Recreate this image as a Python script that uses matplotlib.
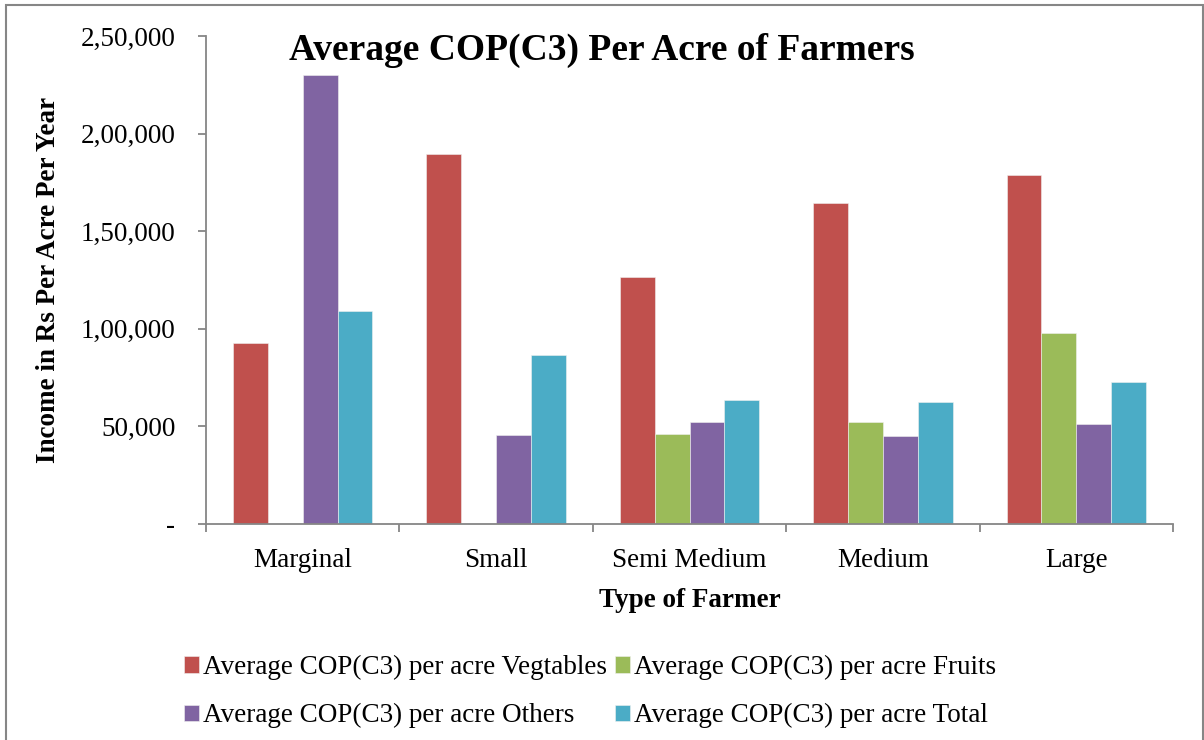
import matplotlib
matplotlib.use("Agg")
import matplotlib.pyplot as plt
from matplotlib.patches import Rectangle
from matplotlib.ticker import FuncFormatter, FixedLocator
import numpy as np

plt.rcParams['font.family'] = ['Liberation Serif', 'DejaVu Serif']

# Farmer categories and average cost of production (C3), Rs per acre per year
farmer_types = ["Marginal", "Small", "Semi Medium", "Medium", "Large"]
vegetables = [92900, 189500, 126500, 164400, 178800]
fruits = [0, 0, 46000, 52300, 97800]
others = [230000, 45800, 52300, 45000, 51200]
total = [109300, 86400, 63500, 62500, 72700]

series_labels = [
    "Average COP(C3) per acre Vegtables",
    "Average COP(C3) per acre Fruits",
    "Average COP(C3) per acre Others",
    "Average COP(C3) per acre Total",
]
colors = ["#C0504D", "#9BBB59", "#8064A2", "#4BACC6"]
y_ticks = [0, 50000, 100000, 150000, 200000, 250000]


def indian_format(v, _pos=None):
    v = int(round(v))
    if v == 0:
        return "-"
    s = str(v)
    last3, rest = s[-3:], s[:-3]
    groups = []
    while len(rest) > 2:
        groups.insert(0, rest[-2:])
        rest = rest[:-2]
    if rest:
        groups.insert(0, rest)
    return ",".join(groups + [last3])


W, H = 1204, 740
FS = 19.5
fig = plt.figure(figsize=(W / 100, H / 100), dpi=100)
ax = fig.add_axes([206 / W, 1 - 524 / H, (1173 - 206) / W, (524 - 36) / H])

x = np.arange(len(farmer_types))
bw = 0.18
offsets = [-1.5, -0.5, 0.5, 1.5]
handles = []
for vals, off, col, lab in zip([vegetables, fruits, others, total], offsets, colors, series_labels):
    b = ax.bar(x + off * bw, vals, width=bw, color=col, label=lab,
               edgecolor="#f0f0f0", linewidth=0.4)
    handles.append(b)

ax.set_xlim(-0.5, len(farmer_types) - 0.5)
ax.set_ylim(0, 250000)

axis_grey = "#868686"
for s in ["top", "right"]:
    ax.spines[s].set_visible(False)
for s in ["left", "bottom"]:
    ax.spines[s].set_color(axis_grey)
    ax.spines[s].set_linewidth(1.3)

ax.yaxis.set_major_locator(FixedLocator(y_ticks))
ax.yaxis.set_major_formatter(FuncFormatter(indian_format))
ax.tick_params(axis="y", direction="out", length=6, width=1.3, color=axis_grey,
               labelsize=FS, pad=16)

# category boundaries carry tick marks, names sit at the centres
ax.xaxis.set_major_locator(FixedLocator(np.arange(-0.5, len(farmer_types), 1.0)))
ax.xaxis.set_major_formatter(FuncFormatter(lambda v, p: ""))
ax.set_xticks(x, minor=True)
ax.set_xticklabels(farmer_types, minor=True)
ax.tick_params(axis="x", which="major", direction="out", length=6, width=1.3, color=axis_grey)
ax.tick_params(axis="x", which="minor", length=0, labelsize=FS, pad=17)

ax.set_xlabel("Type of Farmer", fontsize=FS, fontweight="bold", labelpad=11)
ax.set_ylabel("Income in Rs Per Acre Per Year", fontsize=FS, fontweight="bold", labelpad=14)

fig.text(602 / W, 1 - 50 / H, "Average COP(C3) Per Acre of Farmers",
         ha="center", va="center", fontsize=27, fontweight="bold")

# legend: two rows, two columns (column-major order)
order = [0, 2, 1, 3]
leg = fig.legend([handles[i] for i in order], [series_labels[i] for i in order],
                 ncol=2, loc="upper left", bbox_to_anchor=(184 / W, 1 - 655 / H),
                 frameon=False, fontsize=FS, handlelength=0.55, handleheight=0.55,
                 handletextpad=0.15, columnspacing=0.3, labelspacing=0.85,
                 borderpad=0, borderaxespad=0)

# outer chart frame
fig.patches.append(Rectangle((6 / W, -0.05), (1203 - 6) / W, 1.05 - 5 / H,
                             transform=fig.transFigure, fill=False,
                             edgecolor=axis_grey, linewidth=1.5))

fig.savefig("out.png", dpi=100)
